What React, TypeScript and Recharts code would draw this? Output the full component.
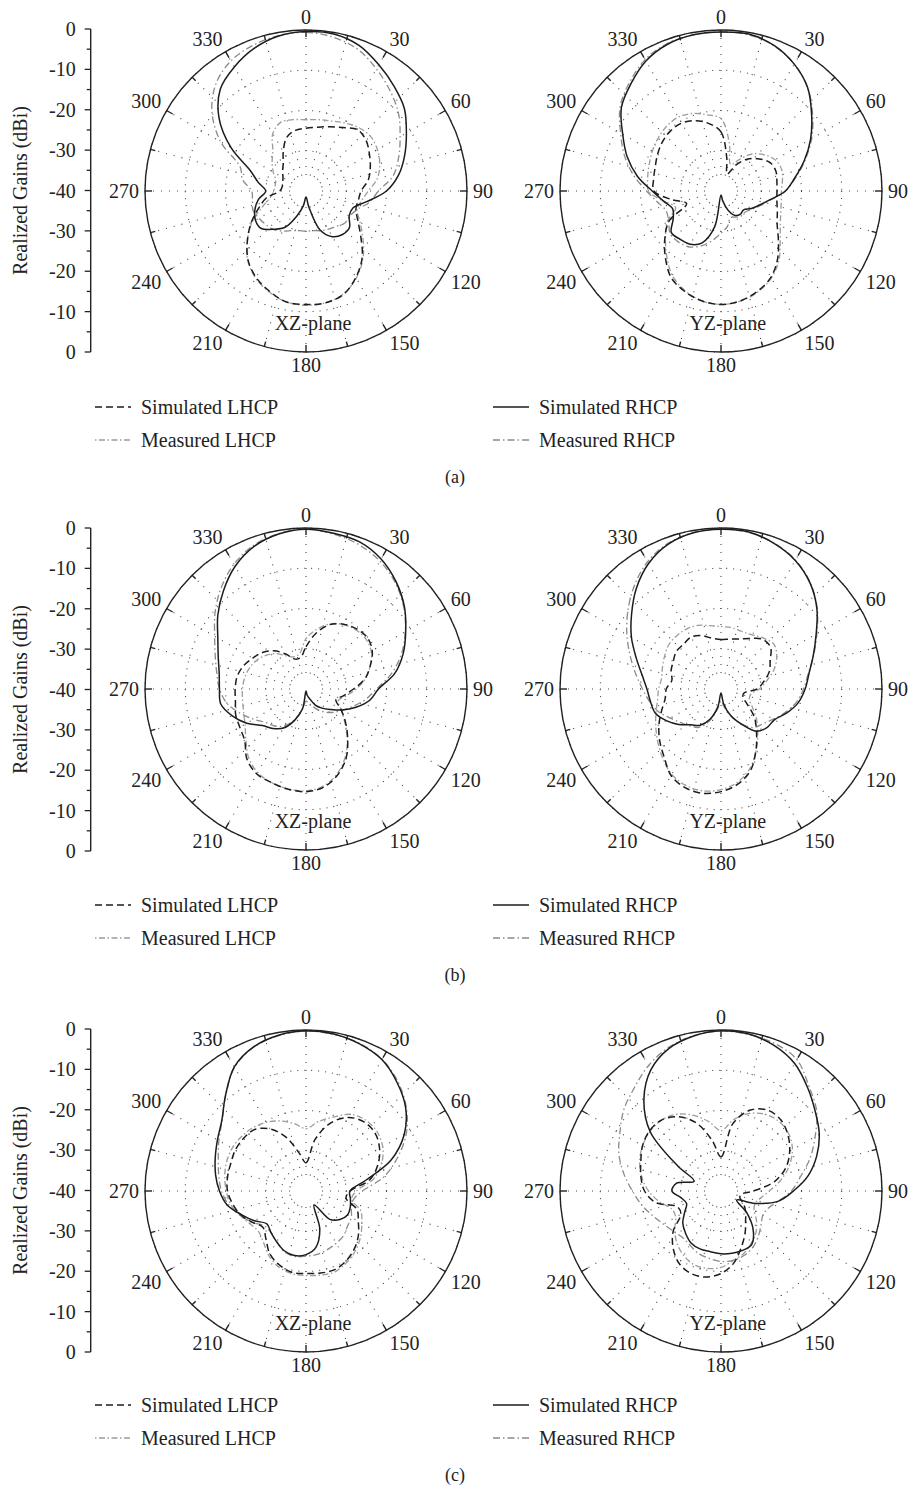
import React from 'react';
import {
  RadarChart,
  Radar,
  PolarGrid,
  PolarAngleAxis,
  PolarRadiusAxis,
  LineChart,
  XAxis,
  YAxis,
} from 'recharts';

// ---------------- data ----------------
const ANGLES = [0, 10, 20, 30, 40, 50, 60, 70, 80, 90, 100, 110, 120, 130, 140, 150, 160, 170,
  180, 190, 200, 210, 220, 230, 240, 250, 260, 270, 280, 290, 300, 310, 320, 330, 340, 350];
const ANGLE_TICKS = [0, 15, 30, 45, 60, 75, 90, 105, 120, 135, 150, 165, 180, 195, 210, 225, 240,
  255, 270, 285, 300, 315, 330, 345];
const ANGLE_LABELS = ['0', '30', '60', '90', '120', '150', '180', '210', '240', '270', '300', '330'];
const RADIUS_TICKS = [-40, -30, -20, -10, 0];
const GAIN_TICKS = [0, 5, 10, 15, 20, 25, 30, 35, 40, 45, 50, 55, 60, 65, 70, 75, 80];
const GAIN_TICK_LABELS = ['0', '-10', '-20', '-30', '-40', '-30', '-20', '-10', '0'];
const PANEL_CAPTIONS = ['(a)', '(b)', '(c)'];
const PLANE_LABELS = ['XZ-plane', 'YZ-plane'];

// (a) XZ
const A_XZ_SIM_LHCP = [-24.4, -23.9, -23.0, -21.8, -20.1, -20.5, -21.8, -23.0, -24.3, -26.3, -26.8, -26.8, -25.1, -22.2, -18.3, -15.2, -12.7, -11.8, -11.8, -12.0, -13.5, -15.2, -17.6, -21.0, -24.3, -27.5, -30.0, -33.5, -34.0, -33.8, -33.4, -32.4, -31.2, -28.7, -25.9, -24.7];
const A_XZ_SIM_RHCP = [-0.4, -0.4, -1.5, -3.8, -6.0, -8.1, -11.2, -13.9, -16.6, -20.0, -24.7, -27.6, -27.6, -25.9, -25.9, -26.9, -29.6, -36.0, -38.5, -36.3, -33.4, -29.6, -27.6, -25.5, -25.5, -26.5, -28.0, -30.0, -28.0, -25.3, -18.5, -11.8, -6.9, -4.4, -2.3, -0.9];
const A_XZ_MEAS_LHCP = [-22.3, -22.0, -21.5, -20.5, -19.5, -19.0, -19.5, -20.5, -22.0, -24.5, -26.0, -26.5, -24.5, -21.5, -18.0, -15.0, -12.8, -11.8, -11.6, -12.0, -13.3, -15.0, -17.5, -21.0, -24.5, -28.5, -31.0, -32.0, -32.2, -32.0, -30.6, -29.0, -27.2, -23.5, -21.8, -22.0];
const A_XZ_MEAS_RHCP = [-0.6, -1.2, -2.5, -5.0, -7.5, -10.0, -13.0, -15.5, -18.0, -22.0, -24.0, -26.5, -27.5, -27.5, -28.5, -29.0, -29.5, -30.0, -30.0, -30.0, -29.5, -28.5, -27.5, -27.0, -26.5, -26.0, -26.5, -26.5, -24.0, -22.6, -15.5, -9.5, -5.2, -2.7, -1.5, -0.8];
// (a) YZ
const A_YZ_SIM_LHCP = [-25.3, -31.7, -35.5, -32.5, -29.6, -27.6, -25.9, -25.5, -25.9, -26.1, -25.9, -25.1, -23.9, -21.4, -18.1, -15.2, -13.5, -12.3, -11.8, -12.3, -13.5, -15.2, -18.5, -21.8, -25.1, -30.9, -27.6, -23.3, -23.0, -22.6, -21.8, -21.0, -20.5, -20.5, -21.4, -23.0];
const A_YZ_SIM_RHCP = [-0.5, -0.4, -1.5, -3.6, -6.5, -10.6, -14.3, -18.0, -21.4, -24.0, -27.6, -29.8, -31.3, -32.7, -32.5, -33.0, -35.0, -37.5, -39.0, -31.0, -26.3, -24.7, -24.3, -23.9, -26.3, -27.2, -25.5, -22.9, -18.9, -15.2, -11.8, -7.7, -5.2, -2.7, -1.2, -0.6];
const A_YZ_MEAS_LHCP = [-22.0, -28.0, -33.0, -31.0, -28.0, -26.0, -24.5, -24.0, -24.5, -25.0, -24.8, -24.2, -23.0, -20.8, -17.6, -15.0, -13.3, -12.2, -11.8, -12.3, -13.7, -15.8, -19.0, -22.0, -24.5, -28.0, -25.5, -22.0, -21.5, -21.0, -20.3, -19.6, -19.0, -18.8, -19.5, -20.8];
const A_YZ_MEAS_RHCP = [-0.5, -0.6, -1.6, -3.6, -6.5, -10.3, -14.0, -17.8, -21.2, -24.0, -27.4, -29.5, -31.0, -32.0, -32.0, -32.5, -33.0, -31.0, -29.5, -27.5, -25.5, -24.0, -23.5, -23.5, -25.0, -25.5, -24.0, -21.5, -18.0, -14.5, -11.2, -7.3, -4.7, -2.3, -1.0, -0.6];
// (b) XZ
const B_XZ_SIM_LHCP = [-29.5, -26.0, -23.0, -21.4, -20.5, -20.1, -21.0, -23.0, -25.1, -28.2, -30.5, -32.1, -30.0, -27.2, -23.9, -20.1, -17.2, -15.2, -14.5, -14.7, -15.2, -15.6, -17.2, -20.1, -21.0, -21.4, -22.2, -22.4, -22.6, -23.4, -24.7, -25.9, -27.6, -30.0, -32.1, -32.1];
const B_XZ_SIM_RHCP = [-0.3, -0.7, -1.1, -2.7, -5.2, -8.1, -11.4, -14.3, -17.6, -22.0, -23.9, -26.8, -29.6, -32.1, -33.8, -35.4, -37.5, -38.5, -39.5, -35.0, -31.7, -28.8, -27.2, -25.9, -23.0, -20.5, -18.5, -18.5, -18.1, -16.8, -14.7, -11.4, -8.1, -4.8, -2.3, -0.9];
const B_XZ_MEAS_LHCP = [-27.5, -25.0, -22.8, -21.5, -20.8, -20.6, -21.3, -23.0, -25.0, -27.5, -30.0, -31.5, -30.0, -27.5, -24.0, -20.5, -17.5, -15.5, -14.7, -14.8, -15.2, -16.0, -17.8, -20.5, -22.5, -23.5, -24.0, -24.2, -24.5, -25.0, -25.8, -27.0, -28.5, -30.5, -31.5, -31.0];
const B_XZ_MEAS_RHCP = [-0.3, -0.9, -1.8, -3.3, -5.5, -8.3, -11.5, -14.8, -18.5, -22.5, -25.0, -27.5, -29.5, -31.0, -32.5, -34.0, -35.5, -36.5, -37.0, -35.0, -32.0, -29.5, -28.0, -27.0, -25.0, -22.5, -20.0, -18.5, -17.5, -16.0, -13.8, -10.5, -7.2, -4.2, -2.0, -0.8];
// (b) YZ
const B_YZ_SIM_LHCP = [-27.7, -27.4, -26.8, -25.5, -23.9, -23.9, -25.9, -27.2, -29.2, -31.0, -34.2, -34.2, -32.5, -29.2, -26.3, -22.6, -18.5, -16.0, -14.5, -13.7, -13.9, -15.2, -18.0, -20.1, -22.2, -24.3, -25.9, -26.4, -27.6, -26.8, -26.3, -25.5, -25.5, -25.1, -25.9, -27.2];
const B_YZ_SIM_RHCP = [-0.3, -0.4, -1.5, -3.1, -5.6, -8.9, -12.7, -15.6, -17.8, -19.1, -20.5, -22.6, -24.7, -25.1, -26.3, -30.0, -33.0, -36.3, -39.0, -35.5, -32.0, -29.6, -28.4, -26.3, -24.3, -22.6, -22.2, -21.6, -20.1, -17.6, -14.3, -11.0, -7.3, -4.0, -1.7, -0.6];
const B_YZ_MEAS_LHCP = [-24.5, -24.5, -24.8, -24.5, -23.5, -22.8, -24.0, -26.0, -28.5, -30.5, -32.5, -32.5, -31.0, -28.5, -25.8, -22.5, -19.0, -16.5, -15.0, -14.3, -14.5, -15.5, -17.5, -19.5, -21.3, -22.8, -24.0, -24.5, -25.0, -24.5, -23.8, -23.0, -22.8, -22.8, -23.2, -24.0];
const B_YZ_MEAS_RHCP = [-0.3, -0.5, -1.4, -3.0, -5.5, -8.8, -12.5, -15.5, -18.0, -19.5, -21.0, -23.0, -25.0, -26.5, -27.5, -30.0, -33.0, -35.5, -37.0, -35.0, -31.5, -29.0, -28.0, -27.0, -25.5, -23.5, -22.0, -20.5, -18.5, -16.0, -13.0, -9.8, -6.5, -3.5, -1.5, -0.5];
// (c) XZ
const C_XZ_SIM_LHCP = [-33.0, -27.0, -22.0, -18.9, -17.6, -17.6, -18.9, -21.0, -23.9, -29.0, -29.9, -26.5, -25.0, -23.0, -21.3, -20.0, -19.2, -19.3, -19.5, -19.5, -20.5, -22.0, -24.5, -26.0, -24.5, -22.7, -21.5, -20.5, -20.2, -20.1, -19.7, -19.7, -20.1, -22.2, -25.9, -30.5];
const C_XZ_SIM_RHCP = [-0.2, -0.4, -1.1, -2.3, -4.8, -7.7, -11.8, -17.5, -25.0, -29.1, -28.8, -28.3, -28.1, -29.0, -30.8, -36.0, -30.0, -25.8, -24.2, -23.7, -24.2, -25.4, -26.5, -27.3, -25.2, -22.9, -20.1, -18.5, -17.2, -16.0, -14.6, -12.7, -8.9, -4.4, -1.9, -0.7];
const C_XZ_MEAS_LHCP = [-24.5, -22.5, -20.5, -18.0, -17.0, -17.0, -18.0, -20.0, -23.0, -27.5, -28.5, -25.5, -24.0, -22.3, -20.8, -19.6, -18.7, -18.8, -19.0, -19.2, -20.0, -21.5, -23.5, -24.5, -23.8, -22.5, -21.0, -20.2, -19.5, -19.0, -18.8, -19.0, -19.5, -20.3, -21.5, -23.0];
const C_XZ_MEAS_RHCP = [-0.3, -0.5, -1.0, -2.2, -4.5, -7.5, -11.2, -15.8, -20.5, -26.0, -28.0, -28.0, -27.0, -26.5, -25.5, -25.0, -24.5, -24.0, -23.8, -23.5, -24.0, -25.5, -26.5, -26.5, -24.5, -22.5, -20.5, -19.0, -18.0, -16.8, -15.0, -12.8, -9.0, -4.5, -2.0, -0.8];
// (c) YZ
const C_YZ_SIM_LHCP = [-31.5, -23.0, -18.6, -16.8, -16.9, -18.3, -20.3, -22.8, -26.5, -32.0, -35.0, -35.0, -33.5, -32.0, -30.5, -28.0, -25.2, -21.8, -19.5, -18.3, -18.2, -19.2, -21.5, -24.5, -28.5, -28.5, -23.5, -21.0, -19.8, -18.8, -17.5, -16.8, -17.0, -18.7, -22.0, -27.2];
const C_YZ_SIM_RHCP = [-0.2, -0.4, -1.5, -3.4, -6.5, -9.4, -11.8, -14.7, -18.0, -22.0, -25.5, -31.0, -35.5, -31.7, -27.6, -24.7, -24.3, -24.3, -24.4, -24.7, -24.7, -25.1, -26.3, -27.6, -29.6, -30.9, -30.0, -27.8, -28.8, -32.9, -27.6, -17.0, -10.2, -5.2, -2.3, -0.9];
const C_YZ_MEAS_LHCP = [-25.0, -22.0, -19.5, -18.0, -17.5, -18.0, -19.5, -22.0, -25.0, -28.0, -30.0, -31.0, -30.5, -28.5, -26.5, -25.0, -23.5, -22.5, -21.0, -20.5, -20.5, -21.5, -23.0, -25.0, -27.0, -27.0, -24.5, -22.0, -20.0, -18.5, -17.5, -17.0, -17.0, -18.0, -20.0, -22.5];
const C_YZ_MEAS_RHCP = [-0.3, -0.5, -1.0, -2.3, -6.0, -9.0, -13.0, -16.5, -20.0, -22.5, -25.5, -27.5, -28.0, -27.0, -25.5, -24.0, -23.0, -22.5, -22.5, -23.0, -23.5, -24.5, -25.0, -24.5, -23.5, -22.0, -20.0, -18.0, -15.5, -13.0, -11.0, -8.5, -6.5, -4.0, -2.0, -0.8];

// ---------------- styles / layout ----------------
const FONT = '"Liberation Serif", "Times New Roman", serif';
const INK = '#222';
const FS = 20;

const SERIES = [
  { key: 'measL', name: 'Measured LHCP', stroke: '#9c9c9c', dash: '1.5 2.5 6 2.5', width: 1.3 },
  { key: 'measR', name: 'Measured RHCP', stroke: '#8a8a8a', dash: '7 3 1.5 3', width: 1.3 },
  { key: 'simL', name: 'Simulated LHCP', stroke: '#1c1c1c', dash: '7 4', width: 1.5 },
  { key: 'simR', name: 'Simulated RHCP', stroke: '#1c1c1c', dash: undefined as string | undefined, width: 1.5 },
];
const LEGEND_LEFT = ['simL', 'measL'];
const LEGEND_RIGHT = ['simR', 'measR'];

// radial grid lines: a gap near the pole, then dots
const RADIAL_DASH = '0 16 ' + new Array(22).fill('1 7').join(' ');

const OUTER_R = 161;
const CHART = 420;
const C = CHART / 2;
const LEFT_CX = 306;
const RIGHT_CX = 720.7;
const AXIS_X = 90.7;

function rows(simL: number[], simR: number[], measL: number[], measR: number[]) {
  return ANGLES.map((angle, i) => ({ angle, simL: simL[i], simR: simR[i], measL: measL[i], measR: measR[i] }));
}

const PANELS = [
  { cy: 190.7, legendY: 407, xz: rows(A_XZ_SIM_LHCP, A_XZ_SIM_RHCP, A_XZ_MEAS_LHCP, A_XZ_MEAS_RHCP), yz: rows(A_YZ_SIM_LHCP, A_YZ_SIM_RHCP, A_YZ_MEAS_LHCP, A_YZ_MEAS_RHCP) },
  { cy: 689, legendY: 905, xz: rows(B_XZ_SIM_LHCP, B_XZ_SIM_RHCP, B_XZ_MEAS_LHCP, B_XZ_MEAS_RHCP), yz: rows(B_YZ_SIM_LHCP, B_YZ_SIM_RHCP, B_YZ_MEAS_LHCP, B_YZ_MEAS_RHCP) },
  { cy: 1190.7, legendY: 1405, xz: rows(C_XZ_SIM_LHCP, C_XZ_SIM_RHCP, C_XZ_MEAS_LHCP, C_XZ_MEAS_RHCP), yz: rows(C_YZ_SIM_LHCP, C_YZ_SIM_RHCP, C_YZ_MEAS_LHCP, C_YZ_MEAS_RHCP) },
];

// centripetal Catmull-Rom through the points Recharts computed
function smoothClosedPath(pts: { x: number; y: number }[]) {
  const n = pts ? pts.length : 0;
  if (n < 3) return '';
  const al = 0.5;
  let d = `M${pts[0].x},${pts[0].y}`;
  for (let i = 0; i < n; i++) {
    const p0 = pts[(i - 1 + n) % n];
    const p1 = pts[i];
    const p2 = pts[(i + 1) % n];
    const p3 = pts[(i + 2) % n];
    const d01 = Math.hypot(p1.x - p0.x, p1.y - p0.y);
    const d12 = Math.hypot(p2.x - p1.x, p2.y - p1.y);
    const d23 = Math.hypot(p3.x - p2.x, p3.y - p2.y);
    const l01a = Math.pow(d01, al), l01b = Math.pow(d01, 2 * al);
    const l12a = Math.pow(d12, al), l12b = Math.pow(d12, 2 * al);
    const l23a = Math.pow(d23, al), l23b = Math.pow(d23, 2 * al);
    let c1x = p1.x, c1y = p1.y, c2x = p2.x, c2y = p2.y;
    if (l01a > 1e-6) {
      const a = 2 * l01b + 3 * l01a * l12a + l12b;
      const m = 3 * l01a * (l01a + l12a);
      c1x = (p1.x * a - p0.x * l12b + p2.x * l01b) / m;
      c1y = (p1.y * a - p0.y * l12b + p2.y * l01b) / m;
    }
    if (l23a > 1e-6) {
      const b = 2 * l23b + 3 * l23a * l12a + l12b;
      const m = 3 * l23a * (l23a + l12a);
      c2x = (p2.x * b + p1.x * l23b - p3.x * l12b) / m;
      c2y = (p2.y * b + p1.y * l23b - p3.y * l12b) / m;
    }
    d += ` C${c1x.toFixed(2)},${c1y.toFixed(2)} ${c2x.toFixed(2)},${c2y.toFixed(2)} ${p2.x.toFixed(2)},${p2.y.toFixed(2)}`;
  }
  return d + ' Z';
}

function AngleTick(props: any) {
  const { x, y, payload } = props;
  const dx = x - C;
  const dy = y - C;
  const len = Math.hypot(dx, dy) || 1;
  const ux = dx / len;
  const uy = dy / len;
  // point on the outer circle along the tick direction
  const px = C + ux * OUTER_R;
  const py = C + uy * OUTER_R;
  const v = Number(payload.value);
  const major = v % 30 === 0;
  const tl = major ? 7 : 5;
  const label = major ? ANGLE_LABELS[v / 30] : '';
  const lx = px + ux * 6;
  const ly = py + uy * 6;
  const anchor = ux > 0.2 ? 'start' : ux < -0.2 ? 'end' : 'middle';
  const baseline = uy < -0.3 ? 'auto' : uy > 0.3 ? 'hanging' : 'central';
  return (
    <g>
      <line x1={px} y1={py} x2={px - ux * tl} y2={py - uy * tl} stroke={INK} strokeWidth={1.4} />
      {label ? (
        <text x={lx} y={ly} textAnchor={anchor} dominantBaseline={baseline} fontFamily={FONT} fontSize={FS} fill={INK}>
          {label}
        </text>
      ) : null}
    </g>
  );
}

function GainTick(props: any) {
  const { x, y, payload } = props;
  const v = Number(payload.value);
  const major = v % 10 === 0;
  return (
    <g>
      <line x1={x} y1={y} x2={x - (major ? 6 : 4)} y2={y} stroke={INK} strokeWidth={1.3} />
      {major ? (
        <text x={x - 15} y={y} textAnchor="end" dominantBaseline="central" fontFamily={FONT} fontSize={FS} fill={INK}>
          {GAIN_TICK_LABELS[v / 10]}
        </text>
      ) : null}
    </g>
  );
}

function PolarPlot({ data, cx, cy }: { data: any[]; cx: number; cy: number }) {
  return (
    <div style={{ position: 'absolute', left: cx - C, top: cy - C, width: CHART, height: CHART }}>
      <RadarChart
        width={CHART}
        height={CHART}
        cx={C}
        cy={C}
        innerRadius={0}
        outerRadius={OUTER_R}
        startAngle={90}
        endAngle={-270}
        data={data}
        margin={{ top: 0, right: 0, bottom: 0, left: 0 }}
      >
        <PolarGrid gridType="circle" radialLines={false} stroke="#444" strokeWidth={1.1} strokeDasharray="1 6" />
        <PolarGrid gridType="circle" polarRadius={[]} stroke="#444" strokeWidth={1.1} strokeDasharray={RADIAL_DASH} />
        <PolarAngleAxis
          dataKey="angle"
          type="number"
          domain={[0, 360]}
          ticks={ANGLE_TICKS as any}
          tickCount={24}
          tickLine={false}
          tickSize={0}
          axisLineType="circle"
          axisLine={{ stroke: INK, strokeWidth: 1.4 }}
          tick={AngleTick}
        />
        <PolarRadiusAxis
          type="number"
          domain={[-40, 0]}
          ticks={RADIUS_TICKS as any}
          tickCount={5}
          tick={false}
          axisLine={false}
          allowDataOverflow
        />
        {SERIES.map((s) => (
          <Radar
            key={s.key}
            name={s.name}
            dataKey={s.key}
            stroke={s.stroke}
            fill="none"
            fillOpacity={0}
            dot={false}
            isAnimationActive={false}
            shape={(p: any) => (
              <path
                d={smoothClosedPath(p.points)}
                fill="none"
                stroke={s.stroke}
                strokeWidth={s.width}
                strokeDasharray={s.dash}
                strokeLinejoin="round"
              />
            )}
          />
        ))}
      </RadarChart>
    </div>
  );
}

const GAIN_ROWS = GAIN_TICKS.map((v) => ({ v }));

function GainAxis({ cy }: { cy: number }) {
  const h = 2 * 161.5;
  return (
    <div style={{ position: 'absolute', left: 0, top: cy - 161.5 - 10, width: 100, height: h + 20 }}>
      <LineChart width={100} height={h + 20} data={GAIN_ROWS} margin={{ top: 10, right: 0, bottom: 10, left: 0 }}>
        <XAxis dataKey="v" hide />
        <YAxis
          type="number"
          domain={[0, 80]}
          ticks={GAIN_TICKS}
          interval={0}
          width={AXIS_X}
          tickSize={0}
          tickMargin={0}
          tickLine={false}
          axisLine={{ stroke: INK, strokeWidth: 1.4 }}
          tick={GainTick}
          allowDataOverflow
          label={{
            value: 'Realized Gains (dBi)',
            angle: -90,
            position: 'insideLeft',
            offset: 20,
            style: { textAnchor: 'middle', fontFamily: FONT, fontSize: FS, fill: INK },
          }}
        />
      </LineChart>
    </div>
  );
}

function LegendSample({ x, y, k }: { x: number; y: number; k: string }) {
  const s = SERIES.find((d) => d.key === k)!;
  return (
    <g>
      <line x1={x} y1={y} x2={x + 36} y2={y} stroke={s.stroke} strokeWidth={s.width} strokeDasharray={s.dash} />
      <text x={x + 46} y={y} dominantBaseline="central" fontFamily={FONT} fontSize={FS} fill={INK}>
        {s.name}
      </text>
    </g>
  );
}

export default function App() {
  return (
    <div style={{ position: 'absolute', left: 0, top: 0, width: 911, height: 1490, background: '#fff', overflow: 'hidden' }}>
      <svg width={911} height={1490} style={{ position: 'absolute', left: 0, top: 0 }}>
        {PANELS.map((p, i) => (
          <g key={i}>
            <text x={LEFT_CX + 7} y={p.cy + 132} textAnchor="middle" dominantBaseline="central" fontFamily={FONT} fontSize={FS} fill={INK}>
              {PLANE_LABELS[0]}
            </text>
            <text x={RIGHT_CX + 7} y={p.cy + 132} textAnchor="middle" dominantBaseline="central" fontFamily={FONT} fontSize={FS} fill={INK}>
              {PLANE_LABELS[1]}
            </text>
            {LEGEND_LEFT.map((k, j) => (
              <LegendSample key={k} x={95} y={p.legendY + j * 33} k={k} />
            ))}
            {LEGEND_RIGHT.map((k, j) => (
              <LegendSample key={k} x={493} y={p.legendY + j * 33} k={k} />
            ))}
            <text x={455} y={p.legendY + 70} textAnchor="middle" dominantBaseline="central" fontFamily={FONT} fontSize={FS - 2} fill={INK}>
              {PANEL_CAPTIONS[i]}
            </text>
          </g>
        ))}
      </svg>
      {PANELS.map((p, i) => (
        <React.Fragment key={i}>
          <GainAxis cy={p.cy} />
          <PolarPlot data={p.xz} cx={LEFT_CX} cy={p.cy} />
          <PolarPlot data={p.yz} cx={RIGHT_CX} cy={p.cy} />
        </React.Fragment>
      ))}
    </div>
  );
}
